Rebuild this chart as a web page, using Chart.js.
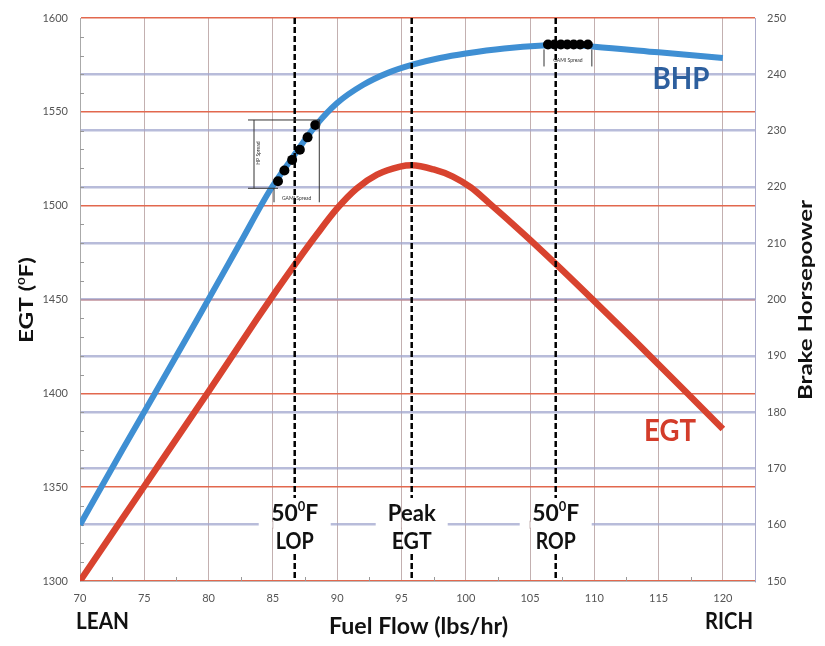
<!DOCTYPE html>
<html>
<head>
<meta charset="utf-8">
<script src="https://cdn.jsdelivr.net/npm/chart.js@4.4.0/dist/chart.umd.min.js"></script>
<style>
  html, body { margin: 0; padding: 0; background: #fff; }
  canvas { display: block; }
</style>
</head>
<body>
<canvas id="chart" width="825" height="646"></canvas>
<script>
// brake horsepower curve (right axis)
const bhpFlow  = [70, 73.3, 76, 79, 82.4, 84.8, 86.4, 88.3, 90, 92, 94, 96, 98, 100, 103, 106, 108, 110, 115, 120];
const bhpPower = [160, 173.3, 184, 196, 209.8, 219.5, 224.8, 230.8, 234.9, 238.1, 240.3, 241.8, 242.9, 243.7, 244.6, 245.1, 245.2, 244.9, 243.9, 242.9];

// exhaust gas temperature curve (left axis)
const egtFlow = [70, 75, 80, 83.8, 85.3, 86.9, 88.4, 90, 91.5, 93.1, 94.9, 95.8, 97.5, 99, 100.4, 101.8, 104.5, 107, 109.8, 113, 117.1, 120];
const egtTemp = [1300, 1350.5, 1401, 1440, 1455, 1470.5, 1484.5, 1498.5, 1509, 1516.5, 1520.8, 1521.5, 1519.3, 1515.5, 1509.7, 1501.5, 1485, 1469, 1450.5, 1429, 1401, 1381];

// GAMI spread dots
const lopDotFlow = [85.4, 85.9, 86.5, 87.1, 87.7, 88.3];
const lopDotHp   = [221.0, 222.9, 224.8, 226.6, 228.8, 231.0];
const ropDotFlow = [106.4, 106.9, 107.4, 107.9, 108.4, 108.9, 109.5];
const ropDotHp   = [245.3, 245.3, 245.3, 245.3, 245.3, 245.3, 245.3];

// dashed markers
const markerFlow  = [86.7, 95.8, 107.0];
const markerLine1 = ['50°F', 'Peak', '50°F'];
const markerLine2 = ['LOP', 'EGT', 'ROP'];

const xTicks = [70, 75, 80, 85, 90, 95, 100, 105, 110, 115, 120];

const pts = (xs, ys) => xs.map((v, i) => ({ x: v, y: ys[i] }));

// '°' is drawn as a small raised 0, as in the original figure
function drawText(ctx, text, cx, cy, size, color, width, angle) {
  const parts = text.split('°');
  const big = 'bold ' + size + 'px Lato';
  const small = 'bold ' + Math.round(size * 0.55) + 'px Lato';
  const pieces = [];
  parts.forEach((p, i) => {
    if (i > 0) pieces.push({ t: '0', f: small, dy: -size * 0.3 });
    if (p) pieces.push({ t: p, f: big, dy: 0 });
  });
  ctx.save();
  ctx.translate(cx, cy);
  if (angle) ctx.rotate(angle);
  ctx.fillStyle = color;
  ctx.textBaseline = 'middle';
  ctx.textAlign = 'left';
  let total = 0;
  pieces.forEach(pc => { ctx.font = pc.f; pc.w = ctx.measureText(pc.t).width; total += pc.w; });
  if (width) ctx.scale(width / total, 1);
  let x = -total / 2;
  pieces.forEach(pc => { ctx.font = pc.f; ctx.fillText(pc.t, x, pc.dy); x += pc.w; });
  ctx.restore();
}

const vGrid = 'rgba(175,150,150,0.75)';

const decor = {
  id: 'decor',
  beforeDatasetsDraw(chart) {
    const { ctx, chartArea: a, scales: { x, y, y1 } } = chart;
    ctx.save();
    // break the 160 hp gridline behind the marker labels
    const yy = y1.getPixelForValue(160);
    markerFlow.forEach(f => {
      const px = x.getPixelForValue(f);
      ctx.fillStyle = '#fff';
      ctx.fillRect(px - 36, yy - 3, 72, 6);
      ctx.strokeStyle = vGrid;
      ctx.lineWidth = 1;
      x.ticks.forEach(t => {
        const tx = x.getPixelForValue(t.value);
        if (tx > px - 37 && tx < px + 37) {
          ctx.beginPath(); ctx.moveTo(tx, yy - 4); ctx.lineTo(tx, yy + 4); ctx.stroke();
        }
      });
    });
    // minor ticks
    ctx.strokeStyle = '#999';
    ctx.lineWidth = 1;
    for (let v = 1310; v < 1600; v += 10) {
      if (v % 50 === 0) continue;
      const py = Math.round(y.getPixelForValue(v)) + 0.5;
      ctx.beginPath(); ctx.moveTo(a.left, py); ctx.lineTo(a.left + 4, py); ctx.stroke();
    }
    for (let v = 72.5; v < 122; v += 5) {
      const px = Math.round(x.getPixelForValue(v)) + 0.5;
      ctx.beginPath(); ctx.moveTo(px, a.bottom); ctx.lineTo(px, a.bottom - 4); ctx.stroke();
    }
    ctx.restore();
  },
  afterDatasetsDraw(chart) {
    const { ctx, chartArea: a, scales: { x, y1 } } = chart;
    ctx.save();
    // dashed marker lines
    ctx.strokeStyle = '#000';
    ctx.lineWidth = 2.5;
    ctx.setLineDash([6, 3]);
    markerFlow.forEach(f => {
      const px = x.getPixelForValue(f);
      ctx.beginPath(); ctx.moveTo(px, a.top); ctx.lineTo(px, 498); ctx.stroke();
      ctx.beginPath(); ctx.moveTo(px, 554); ctx.lineTo(px, a.bottom); ctx.stroke();
    });
    ctx.setLineDash([]);

    // HP spread / GAMI spread bracket at LOP
    const lx = lopDotFlow.map(v => x.getPixelForValue(v));
    const ly = lopDotHp.map(v => y1.getPixelForValue(v));
    const xL = lx[0], xR = lx[lx.length - 1], yB = ly[0], yT = ly[ly.length - 1];
    ctx.strokeStyle = '#333';
    ctx.lineWidth = 1;
    const seg = (x0, y0, x1, y1_) => { ctx.beginPath(); ctx.moveTo(x0, y0); ctx.lineTo(x1, y1_); ctx.stroke(); };
    seg(xL - 30, yT - 5, xR + 5, yT - 5);
    seg(xL - 30, yB + 7, xL, yB + 7);
    seg(xL - 24, yT - 5, xL - 24, yB + 7);
    seg(xR + 4, yT - 5, xR + 4, yB + 21);
    seg(xL - 4, yB + 7, xL - 4, yB + 21);
    ctx.fillStyle = '#333';
    ctx.font = '5px Lato';
    ctx.textAlign = 'center';
    ctx.textBaseline = 'middle';
    ctx.fillText('GAMI Spread', (xL + xR) / 2, yB + 17);
    ctx.save();
    ctx.translate(xL - 20, (yT + yB) / 2);
    ctx.rotate(-Math.PI / 2);
    ctx.fillText('HP Spread', 0, 0);
    ctx.restore();

    // GAMI spread bracket at ROP
    const rx = ropDotFlow.map(v => x.getPixelForValue(v));
    const ry = y1.getPixelForValue(ropDotHp[0]);
    seg(rx[0] - 4, ry + 5, rx[0] - 4, ry + 22);
    seg(rx[rx.length - 1] + 4, ry + 5, rx[rx.length - 1] + 4, ry + 22);
    ctx.fillText('GAMI Spread', (rx[0] + rx[rx.length - 1]) / 2, ry + 16);

    // marker labels
    markerFlow.forEach((f, i) => {
      const px = x.getPixelForValue(f);
      drawText(ctx, markerLine1[i], px, 514, 23, '#111', i === 1 ? 48 : 47);
      drawText(ctx, markerLine2[i], px, 542, 23, '#111', i === 0 ? 38 : 40);
    });

    // series names and axis titles
    drawText(ctx, 'BHP', 681, 79, 31, '#2d5f9e', 57);
    drawText(ctx, 'EGT', 670, 431, 30, '#d33c2a', 52);
    drawText(ctx, 'EGT (°F)', 27, 300, 19, '#111', 86, -Math.PI / 2);
    drawText(ctx, 'Brake Horsepower', 806, 300, 19, '#111', 200, -Math.PI / 2);
    drawText(ctx, 'LEAN', 102.5, 622, 23, '#111', 53);
    drawText(ctx, 'Fuel Flow (lbs/hr)', 418.5, 627, 23, '#111', 179);
    drawText(ctx, 'RICH', 729, 622, 23, '#111', 48);
    ctx.restore();
  }
};

const tickFont = { family: 'Lato', size: 11 };
const plain = v => String(v);

new Chart(document.getElementById('chart'), {
  type: 'line',
  data: {
    datasets: [
      {
        label: 'BHP',
        data: pts(bhpFlow, bhpPower),
        yAxisID: 'y1',
        borderColor: '#3f8fd3',
        borderWidth: 6,
        pointRadius: 0,
        cubicInterpolationMode: 'monotone',
        order: 3
      },
      {
        label: 'EGT',
        data: pts(egtFlow, egtTemp),
        yAxisID: 'y',
        borderColor: '#d8432f',
        borderWidth: 6.5,
        pointRadius: 0,
        cubicInterpolationMode: 'monotone',
        order: 2
      },
      {
        type: 'scatter',
        label: 'LOP spread',
        data: pts(lopDotFlow, lopDotHp),
        yAxisID: 'y1',
        pointRadius: 5,
        backgroundColor: '#000',
        borderWidth: 0,
        order: 1
      },
      {
        type: 'scatter',
        label: 'ROP spread',
        data: pts(ropDotFlow, ropDotHp),
        yAxisID: 'y1',
        pointRadius: 5,
        backgroundColor: '#000',
        borderWidth: 0,
        order: 1
      }
    ]
  },
  options: {
    responsive: false,
    animation: false,
    devicePixelRatio: 1,
    layout: { padding: { top: 18, left: 0, right: 0, bottom: 0 } },
    plugins: { legend: { display: false }, tooltip: { enabled: false } },
    scales: {
      x: {
        type: 'linear',
        min: 70,
        max: 122.5,
        ticks: { padding: 11, color: '#555', font: tickFont, callback: plain },
        grid: { color: vGrid, lineWidth: 1, drawTicks: false },
        border: { color: '#bbb' },
        afterBuildTicks: s => { s.ticks = xTicks.map(v => ({ value: v })); },
        afterFit: s => { s.height = 65; s.paddingLeft = 0; s.paddingRight = 0; }
      },
      y: {
        position: 'left',
        min: 1300,
        max: 1600,
        ticks: { stepSize: 50, padding: 12, color: '#555', font: tickFont, callback: plain },
        grid: { color: 'rgb(226,104,78)', lineWidth: 1.5, drawTicks: false },
        border: { color: '#aaa' },
        afterFit: s => { s.width = 80; s.paddingTop = 0; s.paddingBottom = 0; }
      },
      y1: {
        position: 'right',
        min: 150,
        max: 250,
        ticks: { stepSize: 10, padding: 12, color: '#555', font: tickFont, callback: plain },
        grid: {
          color: c => (c.tick && (c.tick.value === 150 || c.tick.value === 250)) ? 'rgba(0,0,0,0)' : 'rgba(160,165,205,0.75)',
          lineWidth: 2.5,
          drawTicks: false
        },
        border: { color: 'rgba(150,150,190,0.8)' },
        afterFit: s => { s.width = 70; s.paddingTop = 0; s.paddingBottom = 0; }
      }
    }
  },
  plugins: [decor]
});
</script>
</body>
</html>
